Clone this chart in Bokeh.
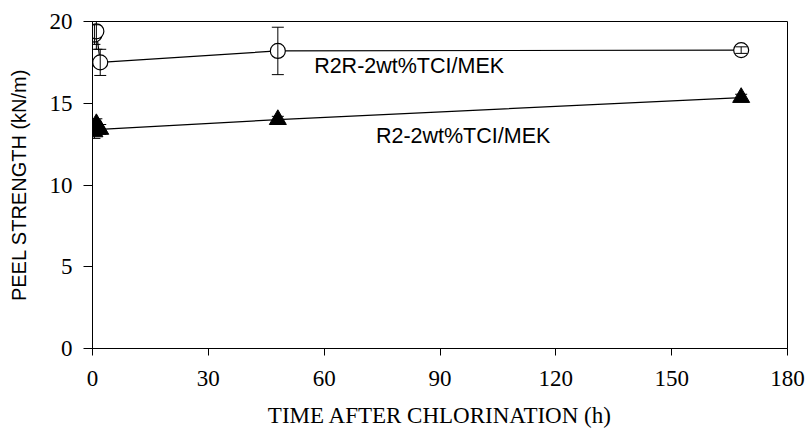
from bokeh.plotting import figure
from bokeh.models import Range1d, Whisker, ColumnDataSource, TeeHead, Label
from bokeh.embed import file_html
from bokeh.resources import INLINE

# Data
r2r_time = [0.5, 1, 2, 48, 168]
r2r_peel = [19.2, 19.4, 17.5, 18.2, 18.25]
r2r_err = [0.6, 1.1, 0.8, 1.45, 0.2]

r2_time = [0.5, 1, 2, 48, 168]
r2_peel = [13.25, 13.75, 13.4, 14.0, 15.35]
r2_err = [0.4, 0.3, 0.3, 0.2, 0.2]

x_ticks = [0, 30, 60, 90, 120, 150, 180]
y_ticks = [0, 5, 10, 15, 20]

label_r2r = "R2R-2wt%TCI/MEK"
label_r2 = "R2-2wt%TCI/MEK"

p = figure(width=807, height=438, output_backend="svg", toolbar_location=None,
           x_range=Range1d(0, 180), y_range=Range1d(0, 20),
           min_border_left=92, min_border_right=20, min_border_top=21, min_border_bottom=90)

p.grid.visible = False
p.outline_line_color = "black"
p.outline_line_width = 1
p.background_fill_color = "white"
p.border_fill_color = "white"

for ax in (p.xaxis[0], p.yaxis[0]):
    ax.axis_line_color = "black"
    ax.major_tick_line_color = "black"
    ax.major_tick_in = 0
    ax.minor_tick_line_color = None
    ax.major_label_text_font = "Liberation Serif"
    ax.major_label_text_font_size = "23px"
    ax.major_label_text_color = "black"
    ax.axis_label_text_color = "black"
    ax.axis_label_text_font_style = "normal"

p.xaxis.major_tick_out = 7
p.yaxis.major_tick_out = 9
p.xaxis.ticker = x_ticks
p.yaxis.ticker = y_ticks
p.xaxis.major_label_standoff = 15
p.yaxis.major_label_standoff = 11

p.xaxis.axis_label = "TIME AFTER CHLORINATION (h)"
p.xaxis.axis_label_text_font = "Liberation Serif"
p.xaxis.axis_label_text_font_size = "23px"
p.xaxis.axis_label_standoff = 14

p.yaxis.axis_label = "PEEL STRENGTH (kN/m)"
p.yaxis.axis_label_text_font = "Liberation Sans"
p.yaxis.axis_label_text_font_size = "20px"
p.yaxis.axis_label_standoff = 17

src1 = ColumnDataSource(dict(x=r2r_time, y=r2r_peel,
                             lo=[v - e for v, e in zip(r2r_peel, r2r_err)],
                             hi=[v + e for v, e in zip(r2r_peel, r2r_err)]))
src2 = ColumnDataSource(dict(x=r2_time, y=r2_peel,
                             lo=[v - e for v, e in zip(r2_peel, r2_err)],
                             hi=[v + e for v, e in zip(r2_peel, r2_err)]))

for src in (src1, src2):
    w = Whisker(source=src, base="x", lower="lo", upper="hi", line_color="black", line_width=1,
                upper_head=TeeHead(size=12, line_color="black"),
                lower_head=TeeHead(size=12, line_color="black"), level="glyph")
    p.add_layout(w)

p.line("x", "y", source=src1, line_color="black", line_width=1.2)
p.line("x", "y", source=src2, line_color="black", line_width=1.2)

p.scatter("x", "y", source=src1, marker="circle", size=15, fill_color="white",
          line_color="black", line_width=1.2)
p.scatter("x", "y", source=src2, marker="triangle", size=17, fill_color="black",
          line_color="black")

p.add_layout(Label(x=57.4, y=17.3, text=label_r2r, text_font="Liberation Sans",
                   text_font_size="21.5px", text_baseline="middle", text_color="black"))
p.add_layout(Label(x=73.4, y=13.0, text=label_r2, text_font="Liberation Sans",
                   text_font_size="21.5px", text_baseline="middle", text_color="black"))

open("out.html", "w").write(file_html(p, INLINE))
